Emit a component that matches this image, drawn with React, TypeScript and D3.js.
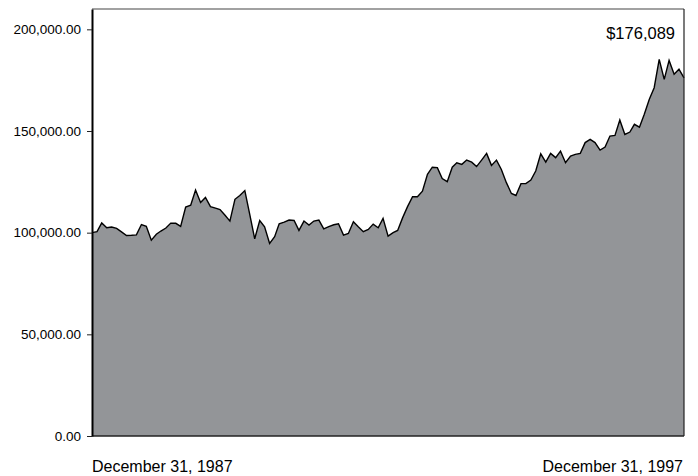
import React, { useEffect, useRef } from "react";
import * as d3 from "d3";

const WIDTH = 698;
const HEIGHT = 476;
const MARGIN = { top: 9, right: 14, bottom: 40, left: 92 };

// month-end values, Dec 1987 .. Dec 1997
const values = [
  100000, 100500, 104800, 102400, 102800, 102100, 100400, 98600, 98700, 98900,
  104000, 103100, 96300, 99200, 100800, 102300, 104700, 104600, 103100, 112600,
  113500, 121000, 114800, 117300, 112800, 112100, 111400, 108600, 105700, 116400,
  118300, 120700, 108800, 97000, 106000, 102900, 94700, 98000, 104400, 105200,
  106200, 106000, 101100, 105700, 103700, 105700, 106200, 101900, 103000, 103900,
  104400, 98800, 99600, 105400, 102900, 100500, 101600, 104200, 102400, 107000,
  98300, 100000, 101100, 107400, 112800, 117700, 117700, 120400, 128700, 132200,
  132000, 126600, 125100, 132200, 134400, 133600, 135700, 134700, 132500, 135700,
  139000, 133100, 135700, 131100, 124600, 119300, 118300, 124100, 124200, 125900,
  130300, 138800, 134700, 139000, 136900, 140100, 134400, 137700, 138500, 139000,
  144300, 145900, 144300, 140600, 142100, 147500, 147800, 155400, 148300, 149500,
  153300, 151900, 158200, 165600, 171300, 185200, 175400, 184700, 177900, 180400,
  176089,
];

const yTicks = [0, 50000, 100000, 150000, 200000];
const startLabel = "December 31, 1987";
const endLabel = "December 31, 1997";
const endValueLabel = "$176,089";

const FONT = "'Liberation Sans', Arial, sans-serif";

const monthEnd = (i: number) =>
  d3.timeDay.offset(d3.timeMonth.offset(new Date(1988, 0, 1), i), -1);

const data = values.map((v, i) => ({ date: monthEnd(i), value: v }));

export default function App() {
  const gRef = useRef(null);
  const boundsWidth = WIDTH - MARGIN.left - MARGIN.right;
  const boundsHeight = HEIGHT - MARGIN.top - MARGIN.bottom;

  useEffect(() => {
    const g = d3.select(gRef.current);
    g.selectAll("*").remove();

    const xScale = d3
      .scaleTime()
      .domain([data[0].date, data[data.length - 1].date])
      .range([0, boundsWidth]);
    const yScale = d3.scaleLinear().domain([0, 210000]).range([boundsHeight, 0]);

    const area = d3
      .area<{ date: Date; value: number }>()
      .x((d) => xScale(d.date))
      .y0(yScale(0))
      .y1((d) => yScale(d.value));
    const line = d3
      .line<{ date: Date; value: number }>()
      .x((d) => xScale(d.date))
      .y((d) => yScale(d.value));

    g.append("path").datum(data).attr("d", area).attr("fill", "#939598");
    g.append("path")
      .datum(data)
      .attr("d", line)
      .attr("fill", "none")
      .attr("stroke", "#000")
      .attr("stroke-width", 1.4)
      .attr("stroke-linejoin", "miter");

    // frame: top, right, bottom
    g.append("line")
      .attr("x1", 0).attr("x2", boundsWidth)
      .attr("y1", 0).attr("y2", 0)
      .attr("stroke", "#444").attr("stroke-width", 1.2);
    g.append("line")
      .attr("x1", boundsWidth).attr("x2", boundsWidth)
      .attr("y1", 0).attr("y2", boundsHeight)
      .attr("stroke", "#222").attr("stroke-width", 1.2);
    g.append("line")
      .attr("x1", 0).attr("x2", boundsWidth)
      .attr("y1", boundsHeight).attr("y2", boundsHeight)
      .attr("stroke", "#222").attr("stroke-width", 1.5);

    // Y axis
    const yAxis = d3
      .axisLeft(yScale)
      .tickValues(yTicks)
      .tickSize(5)
      .tickSizeOuter(0)
      .tickPadding(6)
      .tickFormat((d) => d3.format(",.2f")(d as number));
    const ya = g.append("g").call(yAxis);
    ya.select(".domain").attr("stroke", "#000").attr("stroke-width", 2);
    ya.selectAll(".tick line").attr("stroke", "#222");
    ya.selectAll(".tick text")
      .attr("font-family", FONT)
      .attr("font-size", 13.5)
      .attr("fill", "#000");

    // date labels
    g.append("text")
      .attr("x", 0)
      .attr("y", boundsHeight + 35.5)
      .attr("font-family", FONT)
      .attr("font-size", 16)
      .attr("fill", "#000")
      .text(startLabel);
    g.append("text")
      .attr("x", boundsWidth - 1)
      .attr("y", boundsHeight + 35.5)
      .attr("text-anchor", "end")
      .attr("font-family", FONT)
      .attr("font-size", 16)
      .attr("fill", "#000")
      .text(endLabel);

    // ending value
    g.append("text")
      .attr("x", boundsWidth - 9)
      .attr("y", 30)
      .attr("text-anchor", "end")
      .attr("font-family", FONT)
      .attr("font-size", 16.5)
      .attr("fill", "#000")
      .text(endValueLabel);
  }, [boundsWidth, boundsHeight]);

  return (
    <div style={{ position: "fixed", left: 0, top: 0, background: "#fff" }}>
      <svg width={WIDTH} height={HEIGHT} style={{ display: "block" }}>
        <g
          ref={gRef}
          transform={`translate(${[MARGIN.left, MARGIN.top].join(",")})`}
        />
      </svg>
    </div>
  );
}
